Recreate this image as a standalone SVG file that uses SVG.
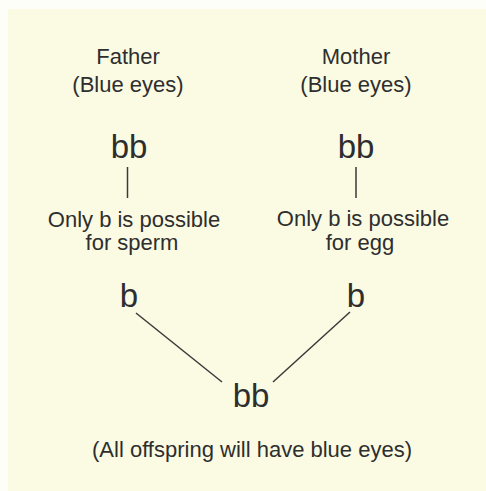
<svg xmlns="http://www.w3.org/2000/svg" width="486" height="491" viewBox="0 0 486 491">
<style>
.t{font-family:"Liberation Sans",Arial,sans-serif;fill:#2e2e2e;text-anchor:middle}
.s{font-size:22px}
.g{font-size:33px}
.c{stroke:#3a3a3a;stroke-width:1.5;fill:none}
</style>
<rect x="0" y="0" width="486" height="491" fill="#fefef8"/>
<rect x="8" y="9" width="478" height="482" fill="#fbfbe4"/>
<g id="father">
<text class="t s" x="128" y="64">Father</text>
<text class="t s" x="128" y="92">(Blue eyes)</text>
</g>
<g id="mother">
<text class="t s" x="356" y="64">Mother</text>
<text class="t s" x="356" y="92">(Blue eyes)</text>
</g>
<g id="father-genotype"><text class="t g" x="129" y="158">bb</text></g>
<g id="mother-genotype"><text class="t g" x="356" y="158">bb</text></g>
<g id="sperm-label">
<text class="t s" x="134" y="227">Only b is possible</text>
<text class="t s" x="132" y="250">for sperm</text>
</g>
<g id="egg-label">
<text class="t s" x="363" y="226">Only b is possible</text>
<text class="t s" x="360" y="250">for egg</text>
</g>
<g id="sperm"><text class="t g" x="129" y="307">b</text></g>
<g id="egg"><text class="t g" x="356" y="307">b</text></g>
<g id="offspring"><text class="t g" x="251" y="407">bb</text></g>
<g id="result"><text class="t s" x="252" y="457">(All offspring will have blue eyes)</text></g>
<g id="connectors">
<line class="c" x1="127.5" y1="167" x2="127.5" y2="198"/>
<line class="c" x1="356" y1="167" x2="356" y2="198"/>
<line class="c" x1="136" y1="313" x2="222" y2="382"/>
<line class="c" x1="350" y1="312" x2="273" y2="382"/>
</g>
</svg>
